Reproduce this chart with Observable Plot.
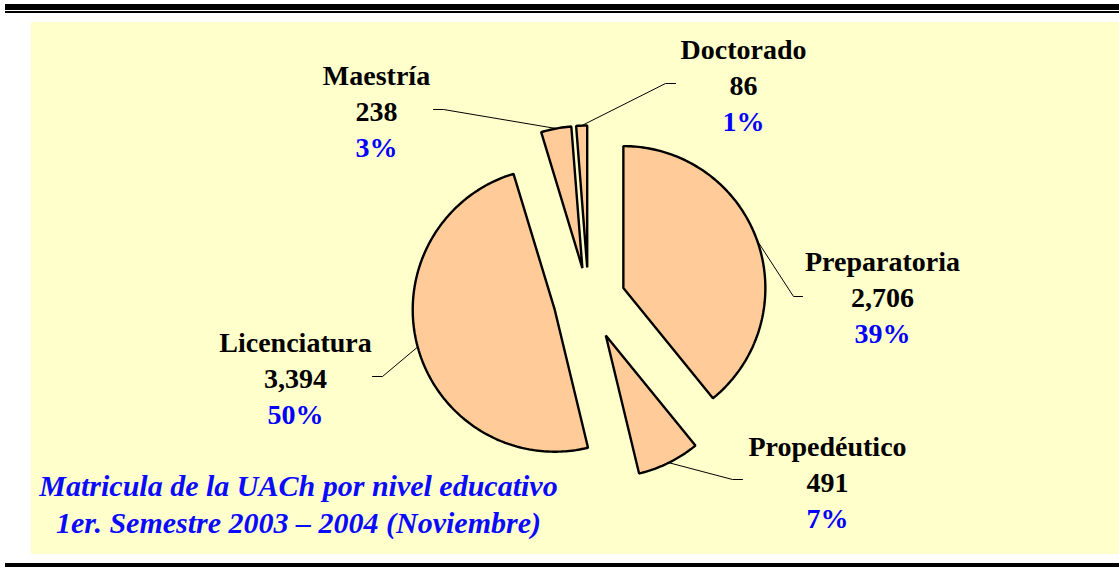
<!DOCTYPE html>
<html><head><meta charset="utf-8">
<script src="https://cdn.jsdelivr.net/npm/d3@7"></script>
<script src="https://cdn.jsdelivr.net/npm/@observablehq/plot@0.6"></script>
<style>
html,body{margin:0;padding:0;background:#fff;}
#frame{position:relative;width:1119px;height:567px;overflow:hidden;}
.bar{position:absolute;background:#000;}
#bg{position:absolute;left:31px;top:22px;width:1088px;height:532px;background:#FFFFCC;}
#chart{position:absolute;left:0;top:0;}
</style></head><body>
<div id="frame">
<div class="bar" style="left:5px;top:4px;width:1114px;height:6px"></div>
<div class="bar" style="left:5px;top:11px;width:1114px;height:1.5px"></div>
<div id="bg"></div>
<div class="bar" style="left:5px;top:563px;width:1114px;height:4px"></div>
<div id="chart"></div>
</div>
<script>
// ---- data ----
const levels = ["Preparatoria", "Propedéutico", "Licenciatura", "Maestría", "Doctorado"];
const students = [2706, 491, 3394, 238, 86];
const valueLabels = ["2,706", "491", "3,394", "238", "86"];
const percentLabels = ["39%", "7%", "50%", "3%", "1%"];
const captionLines = ["Matricula de la UACh por nivel educativo", "1er. Semestre 2003 – 2004 (Noviembre)"];

// ---- layout (pixel units) ----
const W = 1119, H = 567;
const center = [588, 300], radius = 142;
const explode = [37, 39, 35, 33, 33];
const labelAt = [[882, 270], [827, 455], [295, 351], [376, 84], [743, 58]];
const leaderElbow = [[793, 296, 802], [732, 479, 742], [382, 376, 372], [443, 109, 433], [665, 83, 675]];
const lineGap = 36;
const captionAt = [298, 495], captionGap = 37;

const arcs = d3.pie().sort(null).value(d => d)(students);
const pt = (o, r, a) => [o[0] + r * Math.sin(a), o[1] - r * Math.cos(a)];

const slicePts = [], leaderPts = [], labelRows = [];
arcs.forEach((a, i) => {
  const name = levels[i];
  const mid = (a.startAngle + a.endAngle) / 2;
  const apex = pt(center, explode[i], mid);
  slicePts.push({name, x: apex[0], y: apex[1]});
  const n = Math.max(2, Math.ceil((a.endAngle - a.startAngle) / (Math.PI / 180)));
  for (let k = 0; k <= n; k++) {
    const ang = a.startAngle + (a.endAngle - a.startAngle) * k / n;
    const p = pt(apex, radius, ang);
    slicePts.push({name, x: p[0], y: p[1]});
  }
  const s = pt(apex, radius, mid);
  const e = leaderElbow[i];
  leaderPts.push({name, x: s[0], y: s[1]}, {name, x: e[0], y: e[1]}, {name, x: e[2], y: e[1]});
  const [lx, ly] = labelAt[i];
  labelRows.push({x: lx, y: ly, t: name, c: "#000"});
  labelRows.push({x: lx, y: ly + lineGap, t: valueLabels[i], c: "#000"});
  labelRows.push({x: lx, y: ly + 2 * lineGap, t: percentLabels[i], c: "#0000FF"});
});
const captionRows = captionLines.map((t, i) => ({x: captionAt[0], y: captionAt[1] + i * captionGap, t}));

const chart = Plot.plot({
  width: W, height: H, margin: 0,
  x: {domain: [0, W], range: [0, W], axis: null},
  y: {domain: [0, H], range: [0, H], axis: null},
  style: "background:transparent;overflow:visible;",
  marks: [
    Plot.line(slicePts, {x: "x", y: "y", z: "name", curve: "linear-closed", fill: "#FFCC99", stroke: "#000", strokeWidth: 2.4, strokeLinejoin: "miter"}),
    Plot.line(leaderPts, {x: "x", y: "y", z: "name", stroke: "#000", strokeWidth: 1}),
    Plot.text(labelRows, {x: "x", y: "y", text: "t", fill: "c", lineAnchor: "bottom", textAnchor: "middle",
      fontSize: 28, fontWeight: "bold", fontFamily: "Liberation Serif"}),
    Plot.text(captionRows, {x: "x", y: "y", text: "t", fill: "#0A0AFF", lineAnchor: "bottom", textAnchor: "middle",
      fontSize: 30, fontWeight: "bold", fontStyle: "italic", fontFamily: "Liberation Serif"})
  ]
});
document.getElementById("chart").appendChild(chart);
</script>
</body></html>
